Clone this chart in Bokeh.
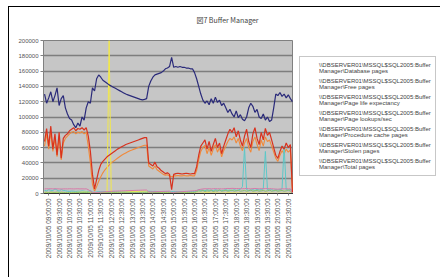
from bokeh.plotting import figure
from bokeh.layouts import row, column
from bokeh.models import Range1d, FixedTicker, Legend, LegendItem, BasicTickFormatter
from bokeh.core.properties import value
from bokeh.embed import file_html
from bokeh.resources import INLINE
import math

title_text = "図7 Buffer Manager"

x_labels = [
    "2009/10/05 09:00:00", "2009/10/05 09:30:00", "2009/10/05 10:00:00", "2009/10/05 10:30:00",
    "2009/10/05 11:00:00", "2009/10/05 11:30:00", "2009/10/05 12:00:00", "2009/10/05 12:30:00",
    "2009/10/05 13:00:00", "2009/10/05 13:30:00", "2009/10/05 14:00:00", "2009/10/05 14:30:00",
    "2009/10/05 15:00:00", "2009/10/05 15:30:00", "2009/10/05 16:00:00", "2009/10/05 16:30:00",
    "2009/10/05 17:00:00", "2009/10/05 17:30:00", "2009/10/05 18:00:00", "2009/10/05 18:30:00",
    "2009/10/05 19:00:00", "2009/10/05 19:30:00", "2009/10/05 20:00:00", "2009/10/05 20:30:00",
]
label_positions = [2, 7, 12, 17, 22, 27, 32, 37, 42, 47, 52, 57, 62, 67, 72, 77, 82, 87, 92, 97, 102, 107, 112, 117]

y_ticks = [0, 20000, 40000, 60000, 80000, 100000, 120000, 140000, 160000, 180000, 200000]

counter_prefix = "\\\\DBSERVER01\\MSSQL$SQL2005:Buffer"
counter_names = [
    "Manager\\Database pages",
    "Manager\\Free pages",
    "Manager\\Page life expectancy",
    "Manager\\Page lookups/sec",
    "Manager\\Procedure cache pages",
    "Manager\\Stolen pages",
    "Manager\\Total pages",
]

database_pages = [
    62000, 78000, 58000, 80000, 55000, 72000, 48000, 74000, 44000, 66000,
    72000, 75000, 78000, 80000, 81000, 78000, 80000, 79000, 81000, 78000,
    80000, 62000, 40000, 12000, 3000, 9000, 16000, 22000, 27000, 31000,
    34000, 37000, 40000, 42000, 44000, 46000, 48000, 50000, 51500, 53000,
    54500, 56000, 57000, 58000, 59000, 60000, 61000, 62000, 63000, 63000,
    36000, 34000, 32000, 36000, 31000, 29000, 27000, 25000, 24000, 24500,
    23000, 22000, 23000, 23000, 23500, 23000, 23000, 23500, 23000, 23000,
    23500, 23000, 23000, 30000, 44000, 55000, 60000, 63000, 52000, 60000,
    50000, 58000, 64000, 54000, 60000, 48000, 56000, 62000, 68000, 72000,
    70000, 74000, 66000, 72000, 62000, 56000, 66000, 72000, 60000, 54000,
    68000, 74000, 64000, 56000, 70000, 62000, 74000, 68000, 70000, 62000,
    54000, 46000, 42000, 50000, 56000, 52000, 58000, 54000, 57000, 1000,
]

free_pages = [
    4000, 3500, 5000, 4200, 3800, 6000, 4500, 3000, 5200, 4000,
    3600, 3000, 2800, 3200, 3000, 2600, 3000, 2800, 3400, 3000,
    2500, 3000, 4000, 2000, 1500, 2000, 2500, 2200, 2400, 2600,
    2500, 2400, 2600, 2500, 2300, 2500, 2600, 2400, 2500, 2600,
    2500, 2400, 2500, 2600, 2500, 2400, 2500, 2600, 2500, 2400,
    3000, 2800, 2600, 2800, 2600, 2500, 2400, 2500, 2600, 2500,
    2400, 2500, 2600, 2500, 2400, 2500, 2600, 2500, 2400, 2500,
    2600, 2500, 2400, 3500, 5000, 4000, 4500, 3500, 5000, 4000,
    4500, 3500, 5000, 4000, 4500, 3800, 4200, 5000, 4000, 4500,
    3500, 5000, 4000, 4500, 5500, 9000, 60000, 5000, 4000, 4500,
    5000, 4000, 5500, 4500, 5000, 6000, 55000, 5000, 4500, 5000,
    4000, 5000, 4500, 5000, 6000, 62000, 5000, 4500, 5000, 4000,
]

page_life_expectancy = [
    1000, 1200, 900, 1100, 1000, 1300, 800, 1000, 700, 900,
    1000, 1100, 1200, 1300, 1400, 1500, 1600, 1700, 1800, 1900,
    2000, 1500, 900, 300, 100, 200, 400, 600, 800, 1000,
    1200, 200000, 1400, 1500, 1600, 1700, 1800, 1900, 2000, 2100,
    2200, 2300, 2400, 2500, 2600, 2700, 2800, 2900, 3000, 3100,
    500, 600, 700, 800, 900, 1000, 1100, 1200, 1300, 1400,
    1500, 200, 300, 400, 500, 600, 700, 800, 900, 1000,
    1100, 1200, 1300, 400, 500, 600, 700, 800, 900, 1000,
    600, 700, 800, 600, 700, 500, 600, 700, 800, 900,
    700, 800, 600, 700, 500, 400, 600, 700, 500, 400,
    600, 700, 500, 400, 600, 500, 700, 600, 500, 400,
    300, 200, 300, 400, 500, 400, 500, 400, 500, 100,
]

page_lookups = [
    1500, 1800, 1200, 2000, 1600, 1400, 1900, 1300, 1700, 1500,
    1200, 1100, 1300, 1000, 1200, 1100, 1300, 1000, 1200, 1400,
    1100, 1500, 1800, 1200, 900, 1100, 1000, 1200, 1100, 1000,
    1100, 1200, 1000, 1100, 1200, 1000, 1100, 1000, 1200, 1100,
    1000, 1100, 1200, 1000, 1100, 1000, 1200, 1100, 1000, 1100,
    1800, 1500, 1200, 1400, 1100, 1300, 1000, 1200, 1100, 1000,
    1200, 1100, 1000, 1200, 1100, 1000, 1200, 1100, 1000, 1200,
    1100, 1000, 1200, 2500, 3500, 3000, 4000, 2500, 3500, 3000,
    4000, 2500, 3500, 3000, 4500, 3000, 3500, 4000, 3000, 3500,
    4500, 3000, 3500, 4000, 3000, 3500, 4000, 3000, 3500, 4500,
    3000, 3500, 4000, 3000, 3500, 4000, 3000, 3500, 4500, 3000,
    3500, 4000, 3000, 3500, 4000, 3000, 3500, 4500, 3000, 500,
]

procedure_cache_pages = [
    6000, 6200, 6100, 6300, 6000, 6200, 6100, 6000, 5900, 6000,
    6100, 6000, 6200, 6100, 6000, 6100, 6200, 6000, 6100, 6000,
    6100, 5000, 3000, 1500, 1000, 1200, 1500, 1800, 2000, 2200,
    2400, 2600, 2800, 3000, 3100, 3200, 3300, 3400, 3500, 3600,
    3700, 3800, 3900, 4000, 4100, 4200, 4300, 4400, 4500, 4500,
    2000, 2100, 2200, 2300, 2400, 2500, 2600, 2700, 2800, 2900,
    3000, 1000, 1500, 1800, 2000, 2200, 2400, 2600, 2800, 3000,
    3200, 3400, 3600, 4000, 5000, 5500, 6000, 6200, 6100, 6300,
    6000, 6200, 6400, 6100, 6300, 6000, 6200, 6400, 6600, 6500,
    6700, 6600, 6400, 6500, 6300, 6200, 6400, 6600, 6300, 6100,
    6400, 6600, 6300, 6100, 6400, 6200, 6500, 6300, 6400, 6200,
    6000, 5800, 5600, 5900, 6100, 6000, 6200, 6000, 6100, 500,
]

stolen_pages = [
    68000, 85000, 62000, 88000, 58000, 78000, 50000, 80000, 46000, 72000,
    76000, 78000, 82000, 84000, 86000, 82000, 85000, 84000, 86000, 83000,
    86000, 75000, 55000, 25000, 6000, 18000, 30000, 38000, 42000, 45000,
    48000, 50000, 52000, 54000, 56000, 58000, 59500, 61000, 62500, 64000,
    65000, 66000, 67000, 68000, 69000, 70000, 71000, 72000, 73000, 73000,
    40000, 38000, 36000, 41000, 35000, 33000, 30000, 28000, 26000, 27000,
    25000, 5000, 25000, 26000, 26500, 26000, 25500, 26000, 26500, 26000,
    25500, 26000, 26000, 35000, 50000, 62000, 66000, 70000, 58000, 68000,
    55000, 64000, 72000, 60000, 66000, 52000, 62000, 70000, 78000, 84000,
    80000, 86000, 74000, 82000, 70000, 62000, 75000, 84000, 68000, 60000,
    78000, 86000, 72000, 64000, 80000, 70000, 85000, 76000, 80000, 70000,
    60000, 50000, 46000, 55000, 62000, 58000, 66000, 60000, 64000, 2000,
]

total_pages = [
    130000, 118000, 125000, 133000, 120000, 128000, 138000, 115000, 124000, 128000,
    112000, 104000, 98000, 96000, 90000, 86000, 92000, 88000, 100000, 96000,
    112000, 120000, 118000, 138000, 134000, 150000, 155000, 152000, 148000, 146000,
    144000, 142000, 140500, 139000, 137500, 136000, 134500, 133000, 131500, 130000,
    129000, 128000, 127000, 126000, 125000, 124000, 123000, 122500, 123000, 124000,
    140000, 147000, 152000, 155000, 156000, 157000, 158000, 160000, 163000, 164000,
    166000, 178000, 165000, 166000, 165000, 166000, 165000, 165000, 164000, 164000,
    163000, 163000, 158000, 150000, 140000, 130000, 122000, 118000, 121000, 116000,
    124000, 118000, 126000, 119000, 122000, 115000, 118000, 112000, 106000, 110000,
    104000, 100000, 108000, 99000, 103000, 97000, 95000, 100000, 112000, 118000,
    114000, 106000, 110000, 100000, 98000, 104000, 96000, 100000, 94000, 96000,
    112000, 130000, 128000, 132000, 127000, 130000, 125000, 129000, 124000, 120000,
]

series = [database_pages, free_pages, page_life_expectancy, page_lookups,
          procedure_cache_pages, stolen_pages, total_pages]
colors = ["#F08A3C", "#5CC8C8", "#F2E84A", "#8CC46A", "#D87AA8", "#D8321E", "#2A2A7A"]
widths = [1.1, 1.0, 1.0, 1.0, 1.0, 1.2, 1.2]

x_idx = list(range(len(total_pages)))

# header strip holding the title
hf = figure(width=431, height=26, output_backend="svg", toolbar_location=None,
            x_range=Range1d(0, 431), y_range=Range1d(0, 26),
            x_axis_location=None, y_axis_location=None,
            min_border_left=0, min_border_right=0, min_border_top=0, min_border_bottom=0)
hf.title = None
hf.grid.visible = False
hf.outline_line_color = None
hf.background_fill_color = "white"
hf.border_fill_color = "white"
hf.text(x=[218], y=[14], text=[title_text], text_align="center", text_baseline="middle",
        text_font=value("Noto Sans CJK JP"), text_font_size="7px", text_color="#444444")

# main chart
p = figure(width=284, height=244, output_backend="svg", toolbar_location=None,
           x_range=Range1d(-0.5, 119.5), y_range=Range1d(0, 200000),
           min_border_left=34, min_border_right=0, min_border_top=7, min_border_bottom=84)
p.title = None
p.background_fill_color = "#C6C6C6"
p.border_fill_color = "white"
p.outline_line_color = "#808080"

p.xgrid.visible = False
p.ygrid.grid_line_color = "#7E7E7E"
p.ygrid.grid_line_width = 1.5

p.yaxis.ticker = FixedTicker(ticks=y_ticks)
p.yaxis.formatter = BasicTickFormatter(use_scientific=False)
p.yaxis.major_label_text_font_size = "6px"
p.yaxis.major_label_text_color = "#555555"
p.yaxis.axis_line_color = "#808080"
p.yaxis.major_tick_line_color = "#808080"
p.yaxis.major_tick_out = 3
p.yaxis.major_tick_in = 0
p.yaxis.minor_tick_line_color = None
p.yaxis.major_label_standoff = 2

p.xaxis.ticker = FixedTicker(ticks=label_positions)
p.xaxis.major_label_overrides = {pos: lab for pos, lab in zip(label_positions, x_labels)}
p.xaxis.major_label_orientation = math.pi / 2
p.xaxis.major_label_text_font_size = "6.5px"
p.xaxis.major_label_text_color = "#555555"
p.xaxis.axis_line_color = "#333333"
p.xaxis.major_tick_line_color = "#808080"
p.xaxis.major_tick_out = 2
p.xaxis.major_tick_in = 0
p.xaxis.minor_tick_line_color = None
p.xaxis.major_label_standoff = 3

for vals, c, w in zip(series, colors, widths):
    p.line(x_idx, vals, line_color=c, line_width=w)

# legend panel (its frame is aligned with the chart's frame by the row)
lp = figure(width=147, height=244, output_backend="svg", toolbar_location=None,
            x_range=Range1d(0, 1), y_range=Range1d(0, 1),
            x_axis_location=None, y_axis_location=None,
            min_border_left=6, min_border_right=0, min_border_top=7, min_border_bottom=84)
lp.title = None
lp.grid.visible = False
lp.outline_line_color = None
lp.background_fill_color = "white"
lp.border_fill_color = "white"

legend_renderers = []
for c, w in zip(colors, widths):
    legend_renderers.append(lp.line([], [], line_color=c, line_width=w))

items = [LegendItem(label=counter_prefix + "\n" + name, renderers=[r])
         for name, r in zip(counter_names, legend_renderers)]
legend = Legend(items=items, location=(0, 17), label_text_font_size="6px",
                label_text_color="#444444", glyph_width=12, glyph_height=14,
                label_height=14, spacing=2, padding=4, margin=0,
                border_line_color="#909090", background_fill_color="white",
                label_standoff=3)
lp.add_layout(legend, "center")

layout = column(hf, row(p, lp, spacing=0), spacing=0)
layout.styles = {"margin-left": "8px", "margin-top": "6px",
                 "border-left": "1px solid #000000", "border-top": "1px solid #000000"}

open("out.html", "w").write(file_html(layout, INLINE))
